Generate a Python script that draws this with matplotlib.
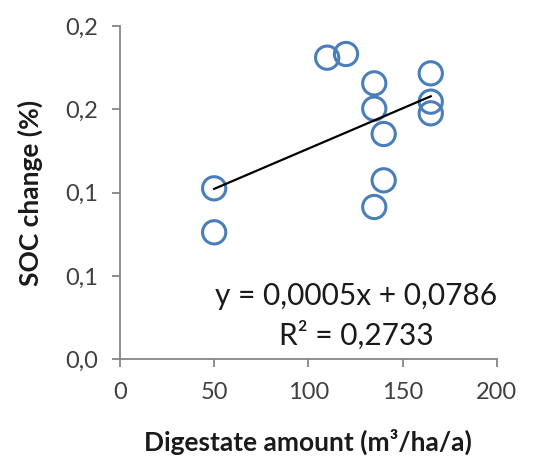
import numpy as np
import matplotlib
matplotlib.use("Agg")
import matplotlib.pyplot as plt

# Digestate amount (m3/ha/a) and SOC change (%)
digestate = [50, 50, 110, 120, 135, 135, 140, 140, 135, 165, 165, 165]
soc_change = [0.1026, 0.0762, 0.1810, 0.1832, 0.1656, 0.1504,
              0.1352, 0.1074, 0.0914, 0.1716, 0.1546, 0.1476]

x_ticks = [0, 50, 100, 150, 200]
y_ticks = [0.0, 0.05, 0.10, 0.15, 0.20]
y_tick_labels = ["0,0", "0,1", "0,1", "0,2", "0,2"]

equation = "y = 0,0005x + 0,0786\nR² = 0,2733"

plt.rcParams["font.family"] = ["Lato", "DejaVu Sans"]

fig = plt.figure(figsize=(5.4, 4.57), dpi=100)
ax = fig.add_axes([0.2222, 0.2138, 0.6976, 0.7293])

ax.scatter(digestate, soc_change, s=280, facecolors="none",
           edgecolors="#4a7ebb", linewidths=2.2, zorder=3)

# linear trendline over the data range
slope, intercept = np.polyfit(digestate, soc_change, 1)
xs = np.array([min(digestate), max(digestate)])
ax.plot(xs, slope * xs + intercept, color="black", linewidth=1.6, zorder=4)

ax.set_xlim(0, 200)
ax.set_ylim(0, 0.2)
ax.set_xticks(x_ticks)
ax.set_yticks(y_ticks)
ax.set_yticklabels(y_tick_labels)

for side in ["top", "right"]:
    ax.spines[side].set_visible(False)
for side in ["left", "bottom"]:
    ax.spines[side].set_color("#868686")
    ax.spines[side].set_linewidth(1.3)

ax.tick_params(axis="both", direction="out", length=6, width=1.3,
               color="#868686", labelsize=17, labelcolor="#404040", pad=10)

ax.set_xlabel("Digestate amount (m³/ha/a)", fontsize=19, fontweight="bold",
              color="#1a1a1a", labelpad=19)
ax.set_ylabel("SOC change (%)", fontsize=19, fontweight="bold",
              color="#1a1a1a", labelpad=16)

ax.text(0.627, 0.13, equation, transform=ax.transAxes, ha="center",
        va="center", multialignment="center", fontsize=21.5,
        color="#1a1a1a", linespacing=1.45)

fig.savefig("out.png", dpi=100)
plt.close(fig)
